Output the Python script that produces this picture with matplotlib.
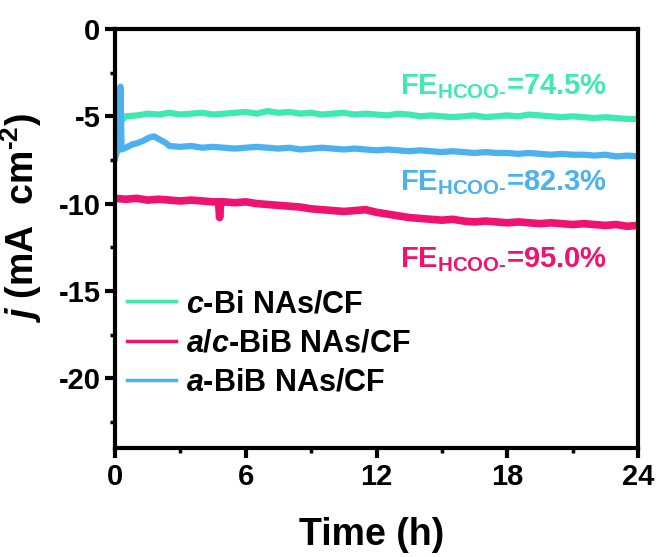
import matplotlib
matplotlib.use("Agg")
import matplotlib.pyplot as plt
from matplotlib.ticker import MultipleLocator

plt.rcParams['font.family'] = ['Liberation Sans', 'DejaVu Sans']
plt.rcParams['font.weight'] = 'bold'
plt.rcParams['axes.unicode_minus'] = False
plt.rcParams['mathtext.fontset'] = 'custom'
plt.rcParams['mathtext.rm'] = 'Liberation Sans:bold'
plt.rcParams['mathtext.bf'] = 'Liberation Sans:bold'
plt.rcParams['mathtext.it'] = 'Liberation Sans:italic:bold'

green = "#3FEAB2"
blue = "#4BB1F1"
pink = "#F0126F"

# c-Bi NAs/CF
t_cbi = [0, 0.08, 0.15, 0.25, 0.5, 1.0, 1.5, 2.0, 2.5, 3.0, 3.5, 4.0, 4.5, 5.0, 5.5, 6.0, 6.5,
         7.0, 7.5, 8.0, 8.5, 9.0, 9.5, 10.0, 10.5, 11.0, 11.5, 12.0, 12.5, 13.0, 13.5, 14.0,
         14.5, 15.0, 15.5, 16.0, 16.5, 17.0, 17.5, 18.0, 18.5, 19.0, 19.5, 20.0, 20.5, 21.0,
         21.5, 22.0, 22.5, 23.0, 23.5, 24.0]
j_cbi = [-7.4, -6.5, -5.6, -5.3, -5.0, -4.95, -4.85, -4.9, -4.8, -4.9, -4.85, -4.8, -4.9, -4.85,
         -4.8, -4.75, -4.85, -4.7, -4.8, -4.75, -4.85, -4.8, -4.9, -4.85, -4.8, -4.9, -4.85,
         -4.9, -4.95, -4.85, -4.9, -5.0, -4.95, -5.0, -5.05, -5.0, -4.95, -5.05, -5.0, -4.95,
         -5.0, -4.9, -4.95, -5.0, -5.05, -5.0, -5.05, -5.1, -5.05, -5.1, -5.15, -5.15]

# a-BiB NAs/CF
t_abib = [0, 0.1, 0.2, 0.25, 0.3, 0.5, 0.8, 1.0, 1.3, 1.6, 1.8, 2.0, 2.3, 2.5, 3.0, 3.5, 4.0,
          4.5, 5.0, 5.5, 6.0, 6.5, 7.0, 7.5, 8.0, 8.5, 9.0, 9.5, 10.0, 10.5, 11.0, 11.5, 12.0,
          12.5, 13.0, 13.5, 14.0, 14.5, 15.0, 15.5, 16.0, 16.5, 17.0, 17.5, 18.0, 18.5, 19.0,
          19.5, 20.0, 20.5, 21.0, 21.5, 22.0, 22.5, 23.0, 23.5, 24.0]
j_abib = [-7.4, -7.0, -6.8, -3.3, -6.9, -6.8, -6.6, -6.55, -6.4, -6.2, -6.15, -6.3, -6.5, -6.7,
          -6.75, -6.7, -6.8, -6.75, -6.8, -6.85, -6.8, -6.75, -6.8, -6.85, -6.8, -6.9, -6.85,
          -6.8, -6.85, -6.9, -6.85, -6.9, -6.95, -6.9, -6.95, -7.0, -6.95, -7.0, -7.05, -7.0,
          -7.05, -7.1, -7.05, -7.1, -7.1, -7.15, -7.1, -7.15, -7.2, -7.15, -7.2, -7.2, -7.25,
          -7.2, -7.3, -7.25, -7.3]

# a/c-BiB NAs/CF
t_acbib = [0, 0.5, 1.0, 1.5, 2.0, 2.5, 3.0, 3.5, 4.0, 4.5, 4.75, 4.8, 4.85, 5.0, 5.5, 6.0, 6.5,
           7.0, 7.5, 8.0, 8.5, 9.0, 9.5, 10.0, 10.5, 11.0, 11.5, 12.0, 12.5, 13.0, 13.5, 14.0,
           14.5, 15.0, 15.5, 16.0, 16.5, 17.0, 17.5, 18.0, 18.5, 19.0, 19.5, 20.0, 20.5, 21.0,
           21.5, 22.0, 22.5, 23.0, 23.5, 24.0]
j_acbib = [-9.7, -9.75, -9.7, -9.8, -9.75, -9.8, -9.85, -9.8, -9.85, -9.9, -9.9, -10.8, -9.9,
           -9.9, -9.95, -9.9, -10.0, -10.05, -10.1, -10.15, -10.2, -10.3, -10.35, -10.4, -10.45,
           -10.4, -10.35, -10.5, -10.6, -10.7, -10.8, -10.85, -10.9, -10.95, -10.9, -11.0,
           -11.05, -11.0, -11.05, -11.1, -11.05, -11.1, -11.15, -11.1, -11.15, -11.2, -11.15,
           -11.2, -11.25, -11.2, -11.3, -11.25]

fe_labels = ["FE$_{\\mathrm{HCOO\u2010}}$=74.5%", "FE$_{\\mathrm{HCOO\u2010}}$=82.3%",
             "FE$_{\\mathrm{HCOO\u2010}}$=95.0%"]
fe_pos = [(22.6, -3.3), (22.6, -8.8), (22.6, -13.2)]
fe_colors = [green, blue, pink]

fig = plt.figure(figsize=(6.58, 5.57), dpi=100)
ax = fig.add_axes([0.1748, 0.1957, 0.7948, 0.7522])

ax.plot(t_cbi, j_cbi, color=green, lw=4.5, label="$c$-Bi NAs/CF")
ax.plot(t_acbib, j_acbib, color=pink, lw=5.5, label="$a/c$-BiB NAs/CF")
ax.plot(t_abib, j_abib, color=blue, lw=4.5, label="$a$-BiB NAs/CF")

for txt, (x, y), c in zip(fe_labels, fe_pos, fe_colors):
    ax.text(x, y, txt, color=c, fontsize=21, fontweight='bold', ha='right', va='center')

ax.set_xlim(0, 24)
ax.set_ylim(-24, 0)
ax.xaxis.set_major_locator(MultipleLocator(6))
ax.xaxis.set_minor_locator(MultipleLocator(3))
ax.yaxis.set_major_locator(MultipleLocator(5))
ax.yaxis.set_minor_locator(MultipleLocator(2.5))
ax.tick_params(which='major', direction='out', length=7, width=3, labelsize=21)
ax.tick_params(which='minor', direction='out', length=3.5, width=2.5)
for s in ax.spines.values():
    s.set_linewidth(3)

ax.set_xlabel("Time (h)", fontsize=27, fontweight='bold')
ax.set_ylabel("$j$ (mA  cm$^{\u20102}$)", fontsize=27, fontweight='bold')
ax.xaxis.set_label_coords(0.49, -0.165)
ax.yaxis.set_label_coords(-0.135, 0.55)

leg = ax.legend(loc='center left', bbox_to_anchor=(0.0, 0.25), frameon=False, fontsize=22,
                handlelength=1.6, handletextpad=0.33, labelspacing=0.3, borderaxespad=0,
                borderpad=0.4)
for line in leg.get_lines():
    line.set_linewidth(2.5)

fig.savefig("out.png", dpi=100)
